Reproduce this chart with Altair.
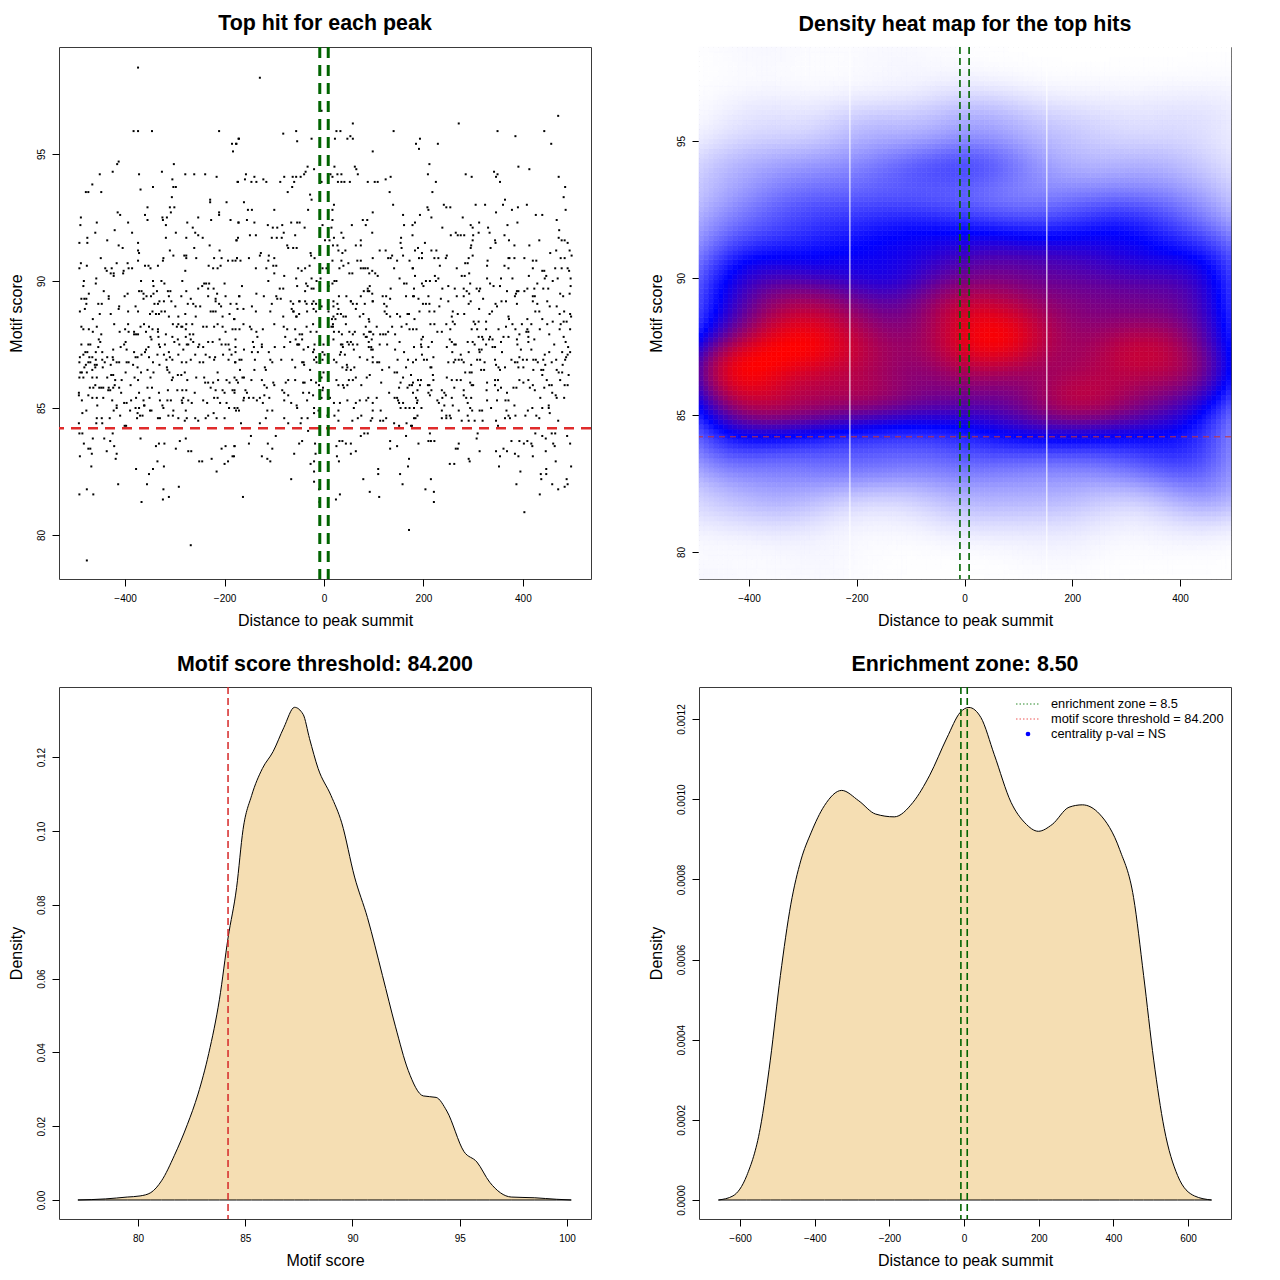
import numpy as np
import pandas as pd
import altair as alt

FONT = "Liberation Sans"

# ---------------- data ----------------
# scatter: (distance to peak summit, motif score), grouped by region of the plot
PTS_A = [(-374,98.4),(-383,95.9),(-374,95.9),(-346,95.9),(-211,95.9),(-185,95.4),(-177,95.4),(-183,95.1),(-172,95.6),(-413,94.7),(-416,94.6),(-451,94.2),(-425,94.3),(-466,93.8),(-479,93.5),(-474,93.5),(-448,93.5),(-372,94.2),(-326,94.3),(-302,94.6),(-279,94.2),(-261,94.2),(-239,94.2),(-216,94.1),(-174,93.9),(-305,94.0),(-369,93.6),(-344,93.7),(-303,93.7),(-298,93.7),(-306,93.3),(-229,93.2),(-229,93.1),(-196,93.1),(-355,92.9),(-310,92.9),(-301,92.9),(-308,92.7),(-415,92.7),(-410,92.6),(-489,92.5),(-360,92.6),(-325,92.5),(-316,92.5),(-355,92.4),(-324,92.4),(-211,92.7),(-211,92.6),(-253,92.5),(-457,92.3),(-394,92.3),(-275,92.3),(-227,92.4),(-188,92.4),(-490,92.2),(-318,92.2),(-264,92.1),(-172,92.3),(-460,91.9),(-421,92.0),(-386,91.9),(-298,91.9),(-259,91.9),(-253,91.8),(-244,91.7),(-476,91.7),(-476,91.5),(-492,91.5),(-436,91.6),(-374,91.5),(-318,91.7),(-277,91.7),(-176,91.6),(-413,91.4),(-405,91.3),(-374,91.2),(-372,91.1),(-310,91.2),(-261,91.3),(-230,91.4),(-210,91.2),(-449,90.9),(-323,90.9),(-324,90.8),(-303,91.0),(-281,91.0),(-277,91.0),(-277,90.9),(-257,90.9),(-374,90.8),(-221,90.9),(-206,90.9),(-193,90.8),(-184,90.8),(-175,90.9),(-489,90.7),(-492,90.5),(-477,90.6),(-440,90.5),(-427,90.5),(-417,90.7),(-395,90.7),(-393,90.5),(-386,90.5),(-360,90.6),(-353,90.6),(-349,90.5),(-334,90.6),(-437,90.4),(-429,90.3),(-423,90.3),(-423,90.2),(-403,90.4),(-404,90.3),(-279,90.4),(-232,90.6),(-223,90.5),(-214,90.5),(-208,90.6),
(-483,90.0),(-484,89.8),(-473,89.5),(-488,89.3),(-482,89.3),(-478,89.3),(-478,89.1),(-481,88.9),(-458,90.1),(-459,89.9),(-443,89.6),(-433,89.4),(-433,89.3),(-454,89.1),(-447,89.1),(-412,89.0),(-413,88.9),(-401,89.4),(-395,89.5),(-379,89.0),(-368,90.0),(-372,89.6),(-367,89.6),(-363,89.5),(-363,89.3),(-357,89.4),(-348,89.4),(-343,89.5),(-344,90.0),(-343,89.8),(-336,89.6),(-331,89.2),(-341,89.1),(-334,89.1),(-327,90.0),(-321,89.9),(-314,89.6),(-309,89.6),(-312,89.4),(-322,89.2),(-307,89.2),(-299,89.0),(-287,89.4),(-285,90.0),(-277,89.6),(-268,89.3),(-274,89.1),(-263,89.1),(-258,89.0),(-249,89.0),(-245,89.8),(-253,89.7),(-241,89.9),(-237,89.9),(-231,89.9),(-233,89.7),(-222,89.7),(-215,89.5),(-218,89.3),(-218,89.2),(-211,89.1),(-207,89.0),(-200,89.9),(-198,89.4),(-188,89.1),(-223,88.8),(-233,89.4),(-176,89.1),(-171,89.4)]

PTS_B = [(-491,88.8),(-451,88.7),(-429,88.7),(-394,88.8),(-374,88.8),(-350,88.7),(-345,88.8),(-338,88.7),(-332,88.7),(-327,88.8),(-320,88.8),(-312,88.6),(-293,88.6),(-279,88.7),(-258,88.6),(-228,88.8),(-218,88.8),(-204,88.6),(-190,88.7),(-181,88.5),(-465,88.5),
(-488,88.2),(-484,88.1),(-473,88.1),(-457,88.2),(-465,88.0),(-448,87.9),(-422,88.3),(-411,88.0),(-400,88.1),(-394,88.3),(-382,87.9),(-378,87.9),(-374,87.9),(-369,88.2),(-362,88.3),(-352,88.2),(-345,88.1),(-334,88.1),(-334,88.0),(-318,87.9),(-304,88.3),(-296,88.2),(-287,88.2),(-285,88.2),(-293,88.3),(-277,88.3),(-278,88.1),(-265,88.3),(-243,88.2),(-236,88.2),(-221,88.2),(-214,88.3),(-204,88.2),(-198,88.0),(-184,88.1),(-178,88.1),(-270,87.9),(-263,87.9),(-278,87.8),(-305,87.8),(-333,87.8),(-349,87.8),(-358,88.0),(-382,88.0),(-393,88.0),
(-453,87.7),(-450,87.6),(-488,87.5),(-474,87.5),(-470,87.5),(-480,87.2),(-476,87.2),(-459,87.2),(-446,87.2),(-454,87.4),(-424,87.3),(-436,87.0),(-425,87.0),(-409,87.4),(-402,87.5),(-399,87.6),(-397,87.3),(-382,87.2),(-379,87.0),(-358,87.3),(-347,87.7),(-332,87.5),(-330,87.4),(-320,87.5),(-312,87.2),(-301,87.6),(-294,87.7),(-291,87.5),(-283,87.3),(-276,87.5),(-273,87.5),(-268,87.7),(-263,87.6),(-251,87.5),(-253,87.4),(-243,87.4),(-233,87.6),(-224,87.6),(-210,87.7),(-206,87.5),(-198,87.5),(-192,87.5),(-190,87.3),(-178,87.4),(-360,87.2),(-353,87.4),
(-491,87.0),(-484,87.1),(-472,87.0),(-466,87.0),(-459,86.9),(-446,86.9),(-492,86.8),(-474,86.8),(-470,86.8),(-479,86.7),(-461,86.7),(-457,86.7),(-441,86.8),(-424,86.9),(-429,86.7),(-417,86.8),(-412,86.8),(-397,86.8),(-393,86.8),(-384,86.7),(-375,87.0),(-367,87.1),(-352,87.0),(-344,86.8),(-335,87.1),(-322,87.1),(-317,86.9),(-310,87.0),(-305,86.9),(-293,87.1),(-286,86.8),(-277,86.8),(-268,86.9),(-259,87.1),(-250,86.8),(-243,86.8),(-238,87.1),(-230,87.0),(-221,86.9),(-219,87.0),(-203,87.1),(-192,86.9),(-186,87.1),(-179,86.8),
(-487,86.4),(-490,86.4),(-482,86.6),(-477,86.4),(-466,86.5),(-460,86.6),(-466,86.2),(-457,86.2),(-492,86.2),(-484,86.2),(-445,86.6),(-428,86.3),(-424,86.3),(-436,86.2),(-420,86.1),(-407,86.1),(-399,86.4),(-381,86.2),(-375,86.6),(-374,86.1),(-368,86.4),(-355,86.5),(-349,86.2),(-343,86.4),(-331,86.7),(-316,86.6),(-315,86.5),(-311,86.4),(-304,86.2),(-306,86.1),(-294,86.3),(-287,86.3),(-280,86.4),(-275,86.1),(-257,86.2),(-241,86.2),(-239,86.0),(-233,86.0),(-223,86.0),(-214,86.4),(-213,86.1),(-196,86.1),(-190,86.0),(-180,86.2),
(-471,85.8),(-464,85.8),(-460,85.9),(-452,85.8),(-448,85.8),(-444,85.8),(-434,85.7),(-430,85.7),(-421,85.9),(-412,85.8),(-408,85.6),(-389,85.9),(-372,85.6),(-355,85.8),(-346,85.8),(-332,85.6),(-314,85.7),(-295,85.7),(-285,85.7),(-277,85.7),(-260,85.6),(-228,85.8),(-218,85.7),(-204,85.7),(-200,85.6),(-184,85.7),(-180,85.6),(-493,85.6),(-493,85.5),(-474,85.5),(-466,85.4),(-457,85.4),(-444,85.4),(-433,85.8),(-424,85.8),
(-487,85.3),(-456,85.1),(-426,85.3),(-417,85.1),(-402,85.2),(-397,85.2),(-388,85.3),(-378,85.4),(-363,85.3),(-361,85.1),(-351,85.4),(-330,85.3),(-325,85.1),(-323,85.0),(-315,85.3),(-308,85.3),(-303,84.9),(-286,85.3),(-283,85.4),(-285,85.2),(-278,84.9),(-273,85.3),(-266,85.2),(-243,85.3),(-235,85.2),(-221,85.4),(-214,85.4),(-209,85.2),(-196,85.2),(-191,85.0),(-180,85.0),(-171,84.9),(-486,84.8),(-478,84.9),(-423,84.9),(-417,85.0),(-390,84.9),(-379,85.0),(-372,85.0),(-362,85.1),(-350,84.9),(-347,84.9),(-375,84.8),(-365,84.7),
(-457,84.6),(-447,84.6),(-431,84.6),(-410,84.7),(-458,84.4),(-446,84.4),(-401,84.3),(-398,84.3),(-376,84.6),(-370,84.7),(-334,84.6),(-330,84.6),(-313,84.7),(-304,84.7),(-293,84.6),(-280,84.5),(-276,84.6),(-259,84.6),(-253,84.5),(-238,84.6),(-233,84.7),(-222,84.8),(-216,84.6),(-200,84.6),(-493,84.4),
(-492,84.0),(-486,84.0),(-465,83.8),(-483,83.6),(-474,83.4),(-470,83.4),(-467,83.2),(-491,83.1),(-442,83.8),(-430,83.7),(-422,83.5),(-417,83.2),(-419,83.0),(-437,83.3),(-425,84.0),(-369,83.8),(-338,83.5),(-332,83.6),(-321,83.6),(-298,83.4),(-290,83.7),(-278,83.8),(-273,83.3),(-267,83.3),(-251,82.9),(-245,82.9),(-226,83.0),(-206,83.4),(-198,83.5),(-180,83.5),(-184,83.1),(-193,82.9),(-200,82.8),(-216,82.5),(-468,82.7),(-378,82.6),(-352,82.4),(-344,82.6),(-335,82.9),(-322,82.7),(-414,82.0),(-356,82.0),(-292,81.9),(-477,81.8),(-492,81.6),(-464,81.6),(-323,81.8),(-312,81.5),(-367,81.3),(-324,81.4),(-268,79.6),(-477,79.0)]

PTS_C = [(-129,98.0),(-5,96.7),(-82,95.8),(-56,95.9),(-25,95.6),(-54,95.5),(-171,95.6),(-176,95.4),(25,95.9),(33,95.9),(22,95.6),(58,96.2),(53,95.7),(58,95.6),(47,95.6),(140,95.9),(98,95.1),(-33,94.5),(-20,94.4),(-37,94.3),(-40,94.2),(21,94.5),(62,94.5),(65,94.4),(68,94.2),(-157,94.2),(-159,94.0),(-140,94.1),(-173,93.9),(-146,93.9),(-136,93.9),(-122,94.0),(-116,93.9),(-88,93.9),(-80,94.1),(-63,94.1),(-56,94.1),(-47,94.1),(-60,93.9),(13,94.2),(17,94.1),(27,94.2),(35,94.2),(28,93.9),(35,93.9),(41,93.9),(52,93.9),(88,93.9),(102,93.9),(108,93.9),(124,94.0),(134,94.1),(-5,93.9),(-73,93.5),(-64,93.7),(-28,93.4),(-25,93.2),(132,93.5),(-161,93.1),(-153,92.8),(-145,92.8),(-100,92.8),(-32,92.8),(17,92.8),(20,93.0),(139,93.0),(98,92.7),(159,92.6),
(-172,92.3),(-155,92.4),(-140,92.3),(-113,92.2),(-103,92.1),(-94,92.1),(-84,92.2),(-66,92.3),(-54,92.3),(-49,92.3),(-39,92.1),(-3,92.2),(17,92.4),(15,92.1),(56,92.2),(78,92.4),(87,92.4),(84,92.2),(97,91.9),(161,92.2),(-173,91.7),(-176,91.6),(-149,91.8),(-137,91.8),(-105,91.7),(-95,91.7),(-85,91.7),(-81,91.9),(-74,91.4),(-72,91.3),(-62,91.3),(-55,91.3),(-58,91.8),(2,91.6),(11,91.6),(20,91.7),(35,91.9),(39,91.7),(74,91.6),(64,91.4),(74,91.4),(155,91.7),(154,91.5),(156,91.3),(-27,91.1),(-26,91.0),(-19,90.9),(18,91.4),(29,91.2),(27,91.4),(43,91.2),(112,91.2),(124,91.2),
(-178,90.8),(-175,90.9),(-168,90.8),(-151,90.9),(-127,91.1),(-129,91.0),(-111,91.0),(-100,90.9),(-112,90.8),(37,91.1),(17,90.8),(35,90.8),(67,90.8),(74,90.8),(98,90.9),(129,90.9),(134,90.9),(137,91.0),(159,91.0),(147,90.8),(-137,90.5),(-116,90.5),(-102,90.6),(-96,90.6),(-100,90.3),(-80,90.2),(-52,90.5),(-45,90.4),(-38,90.5),(-29,90.6),(-3,90.5),(5,90.5),(31,90.5),(39,90.6),(49,90.7),(57,90.3),(51,90.3),(74,90.5),(79,90.5),(83,90.5),(88,90.5),(91,90.3),(97,90.4),(103,90.3),(108,90.2),(141,90.5),(179,90.5),(172,90.8),
(-56,90.1),(-25,90.1),(-7,90.1),(-15,90.0),(21,90.0),(25,90.0),(17,89.9),(9,89.8),(-112,90.0),(-165,89.8),(-54,89.8),(-36,89.9),(-33,89.8),(-25,89.7),(-21,89.7),(-89,89.7),(-82,89.7),(92,89.8),(88,89.7),(91,89.6),(80,89.6),(97,89.5),(118,89.4),(125,89.4),(134,89.7),(152,90.1),(161,89.9),(166,89.9),(179,89.4),(-170,89.4),(-136,89.5),(-121,89.4),(-96,89.4),(-94,89.3),(-87,89.3),(-105,89.1),(-67,89.2),(-50,89.2),(-35,89.1),(-24,89.1),(-16,89.1),(-5,89.0),(19,89.2),(27,89.1),(30,89.4),(45,89.4),(54,89.2),(58,89.1),(74,89.4),(82,89.1),(98,89.2),(121,89.1),(126,89.0),(133,89.3),(165,89.4),
(-174,88.9),(-162,88.9),(-145,89.0),(-65,88.9),(9,88.8),(27,88.7),(64,88.9),(126,88.7),(171,88.7)]

PTS_D = [(-137,88.8),(-108,88.8),(-82,88.6),(-62,88.8),(-55,88.6),(-50,88.7),(-34,88.8),(-16,88.8),(19,88.6),(23,88.5),(34,88.7),(39,88.6),(44,88.6),(72,88.6),(79,88.7),(90,88.5),(122,88.8),(133,88.6),(147,88.7),(153,88.6),(168,88.7),(-180,88.5),
(-162,88.3),(-170,88.1),(-149,88.2),(-146,88.1),(-136,88.0),(-134,87.8),(-123,88.1),(-100,88.3),(-81,88.2),(-74,88.1),(-78,87.8),(-58,88.1),(-49,87.9),(-44,87.9),(-57,87.7),(-35,88.2),(-27,88.0),(-15,88.0),(18,88.3),(15,88.2),(20,88.0),(36,87.9),(51,88.0),(58,87.9),(80,87.9),(86,87.8),(94,88.0),(99,87.9),(113,87.9),(106,88.2),(119,87.9),(129,88.0),(124,87.9),(143,87.9),(137,88.2),(156,88.2),(166,88.3),(172,88.1),
(-178,87.7),(-143,87.6),(-141,87.4),(-125,87.5),(-125,87.4),(-99,87.4),(-80,87.4),(-68,87.6),(-54,87.5),(-50,87.5),(-41,87.3),(-32,87.4),(-20,87.3),(-22,87.2),(-1,87.5),(-3,87.2),(37,87.5),(47,87.6),(50,87.5),(58,87.5),(67,87.5),(32,87.1),(42,87.1),(60,87.3),(90,87.6),(95,87.4),(95,87.3),(98,87.3),(112,87.5),(127,87.5),(143,87.3),(152,87.6),(161,87.2),(-178,87.2),(-161,87.3),(-145,87.2),(-133,87.2),(-111,87.2),
(-170,86.9),(-166,86.9),(-178,86.8),(-139,86.9),(-108,86.9),(-104,86.8),(-119,86.6),(-86,86.9),(-64,86.9),(-44,86.8),(-40,86.7),(-28,86.5),(-20,86.9),(-15,86.8),(-3,86.9),(1,87.1),(20,86.9),(25,86.8),(37,86.6),(47,86.6),(45,86.5),(54,86.5),(61,86.6),(87,86.9),(98,86.8),(107,86.8),(111,86.8),(117,86.5),(131,86.6),(142,86.4),(147,86.4),(148,86.9),(165,86.6),(169,86.9),(-169,86.5),(-140,86.5),(-117,86.5),
(-164,86.2),(-161,86.2),(-176,86.1),(-173,86.0),(-146,86.1),(-125,86.1),(-102,86.0),(-120,85.9),(-115,85.8),(-100,85.9),(-77,86.0),(-72,86.1),(-58,86.1),(-42,86.0),(-39,86.0),(-26,86.1),(-16,86.0),(-1,86.4),(-5,86.2),(-10,85.9),(-2,85.8),(25,86.1),(29,85.9),(38,85.9),(40,85.8),(47,85.9),(50,86.1),(58,86.1),(64,86.2),(75,85.9),(86,86.2),(92,86.3),(115,86.0),(151,85.8),(159,86.2),(154,86.0),(168,85.8),(172,85.9),(179,86.0),
(-180,85.7),(-158,85.7),(-155,85.6),(-161,85.4),(-151,85.4),(-162,85.3),(-174,85.0),(-177,84.9),(-142,85.4),(-135,85.3),(-129,85.4),(-120,85.5),(-110,85.4),(-123,85.2),(-114,84.9),(-104,84.9),(-84,85.7),(-80,85.6),(-72,85.5),(-80,85.3),(-66,85.2),(-55,85.1),(-54,85.0),(-42,85.6),(-34,85.3),(-30,85.6),(-22,85.5),(-20,85.0),(-11,84.9),(-3,85.7),(-5,85.4),(12,85.4),(20,85.2),(32,85.2),(29,84.9),(47,85.3),(64,85.2),(72,85.3),(60,85.0),(85,85.3),(89,85.4),(98,85.2),(106,85.4),(98,84.9),(114,84.9),(131,85.6),(142,85.4),(147,85.4),(149,85.3),(151,85.2),(159,85.2),(154,85.0),(164,85.0),(172,85.0),(181,85.0),
(-167,84.4),(-129,84.4),(-117,84.6),(-80,84.6),(-72,84.4),(-47,84.4),(-45,84.6),(-33,84.6),(-20,84.8),(7,84.7),(21,84.7),(29,84.5),(57,84.5),(68,84.6),(75,84.7),(94,84.5),(97,84.6),(113,84.5),(119,84.5),(125,84.6),(141,84.4),(151,84.3),(166,84.4),
(-32,84.1),(-147,83.9),(-97,83.9),(-151,83.6),(-113,83.6),(-104,83.4),(-180,83.5),(-181,83.1),(-125,83.1),(-114,83.0),(-108,82.9),(-60,83.2),(-44,83.7),(-50,83.6),(-18,83.6),(-20,82.9),(-27,82.8),(-17,83.2),(25,83.5),(31,83.7),(37,83.7),(44,83.6),(54,83.6),(54,83.2),(64,83.3),(26,83.1),(30,82.9),(74,83.9),(81,84.0),(88,84.0),(133,83.7),(147,83.5),(133,83.4),(165,83.9),(171,83.0),(169,82.7),(109,82.6),(109,82.4),(153,82.4),(79,82.2),(-66,82.2),(158,82.0),(92,81.7),(111,81.5),(32,81.6),(24,81.4),(-163,81.5),(171,80.2),(-10,81.8),(-9,81.3),(-20,82.5),(-20,82.1)]

PTS_E = [(471,96.5),(271,96.2),(349,95.9),(443,95.9),(385,95.7),(193,95.6),(185,95.4),(191,95.2),(229,95.4),(457,95.4),(212,94.6),(391,94.5),(413,94.4),(209,94.2),(285,94.2),(297,94.1),(342,94.3),(349,94.2),(346,94.1),(472,94.1),(225,93.9),(354,93.9),(485,93.7),(218,93.5),(482,93.3),(364,93.2),(241,93.0),(246,92.9),(254,92.9),(305,93.0),(324,93.0),(360,93.0),(408,93.0),(390,92.9),(208,92.9),(210,92.8),(378,92.8),(486,92.8),(193,92.6),(346,92.7),(426,92.6),(439,92.6),(216,92.5),(279,92.5),(468,92.4),(183,92.3),(178,92.2),(312,92.3),(295,92.2),(299,92.1),(330,92.1),(369,92.2),(389,92.3),(238,92.1),
(473,92.0),(478,91.6),(484,91.6),(265,91.9),(269,91.8),(275,91.8),(282,91.8),(255,91.8),(311,91.9),(333,91.9),(178,91.8),(300,91.8),(363,91.8),(203,91.5),(299,91.6),(344,91.6),(345,91.5),(372,91.6),(433,91.6),(472,91.7),(296,91.4),(295,91.3),(335,91.3),(383,91.4),(413,91.4),(490,91.5),(183,91.2),(189,91.3),(197,91.1),(216,91.2),(226,91.2),(299,91.0),(455,91.1),(467,91.2),(494,91.2),(498,91.0),
(191,90.9),(197,90.9),(222,90.9),(230,90.9),(245,90.9),(247,91.0),(291,90.9),(371,90.9),(373,90.9),(383,90.9),(403,90.9),(420,90.8),(427,90.8),(476,90.9),(484,90.9),(329,90.8),(284,90.7),(289,90.7),(233,90.6),(178,90.5),(267,90.5),(363,90.6),(371,90.5),(328,90.6),(420,90.5),(439,90.4),(443,90.4),(465,90.5),(478,90.5),(490,90.5),(493,90.4),(183,90.2),(223,90.2),(230,90.1),(277,90.2),(283,90.2),(292,90.3),(328,90.1),(356,90.1),(379,90.1),(412,90.2),(447,90.2),(444,90.1),(470,90.1),(496,90.1),
(197,89.9),(200,89.8),(205,90.0),(213,90.0),(225,90.0),(181,89.7),(238,89.7),(250,89.8),(263,89.7),(281,89.7),(287,89.6),(307,89.7),(314,89.7),(312,89.6),(294,89.9),(334,89.9),(341,89.8),(354,89.8),(368,89.6),(388,89.6),(391,89.6),(403,89.6),(409,89.7),(423,89.7),(429,89.9),(441,89.7),(451,89.7),(460,90.0),(475,89.5),(481,89.4),(494,89.5),(496,89.8),
(181,89.4),(190,89.3),(210,89.4),(235,89.3),(250,89.2),(267,89.4),(281,89.4),(292,89.5),(291,89.1),(295,89.2),(320,89.3),(345,89.1),(357,89.2),(366,89.2),(386,89.5),(384,89.4),(420,89.4),(424,89.4),(420,89.2),(429,89.1),(449,89.2),(199,89.1),(205,89.1),(212,89.1),(232,89.0),(312,88.9),(348,89.0),(388,89.1),(454,89.0),(468,89.0)]

PTS_F = [(192,88.8),(212,88.8),(222,88.8),(259,88.8),(257,88.6),(269,88.7),(282,88.7),(338,88.8),(333,88.7),(371,88.6),(372,88.5),(425,88.8),(433,88.8),(439,88.5),(474,88.7),(483,88.8),(495,88.7),(497,88.6),(182,88.5),(409,88.5),
(214,88.3),(222,88.3),(246,88.3),(259,88.4),(263,88.3),(301,88.4),(304,88.3),(311,88.4),(326,88.4),(366,88.2),(379,88.3),(398,88.3),(409,88.1),(411,88.0),(417,88.3),(449,88.3),(460,88.4),(476,88.3),(482,88.4),(488,88.4),(179,88.1),(186,88.1),(228,88.0),(237,88.0),(254,88.1),(297,88.1),(308,88.1),(326,88.1),(351,88.1),(385,88.1),(393,87.9),(434,88.1),(453,87.9),(474,88.1),(495,88.1),(199,87.8),(196,87.7),(253,87.7),(257,87.6),(311,87.8),(318,87.8),(320,87.7),(334,87.8),(339,87.7),(332,87.7),(361,87.8),(371,87.8),(388,87.7),(411,87.8),(407,88.0),(423,87.7),(482,87.8),
(181,87.4),(195,87.5),(196,87.4),(210,87.4),(217,87.6),(262,87.5),(265,87.5),(289,87.6),(299,87.6),(303,87.5),(312,87.3),(317,87.3),(313,87.2),(326,87.5),(339,87.4),(344,87.4),(358,87.2),(356,87.6),(389,87.5),(396,87.3),(411,87.6),(417,87.3),(444,87.1),(453,87.2),(463,87.5),(486,87.6),(491,87.4),(479,87.2),(495,87.2),(247,87.4),(258,87.2),(275,87.1),(291,87.2),(220,87.0),(197,87.1),
(179,86.8),(185,86.9),(201,86.9),(207,86.9),(216,86.6),(214,86.6),(250,86.8),(261,86.8),(264,86.9),(271,86.9),(277,86.9),(281,86.8),(296,86.7),(308,86.9),(314,86.9),(323,86.8),(344,86.9),(346,86.7),(351,86.6),(354,86.5),(364,86.6),(377,86.9),(384,86.8),(389,86.8),(393,87.0),(400,86.9),(408,86.9),(421,86.9),(426,86.9),(430,86.8),(441,86.9),(445,86.7),(458,86.8),(467,86.9),(480,86.7),(485,86.9),(490,87.1),(487,87.0),(391,86.6),(401,86.6),(297,86.4),(284,86.4),(293,86.4),(322,86.5),(316,86.5),
(175,86.3),(219,86.3),(189,86.1),(195,86.1),(220,86.1),(177,85.9),(193,85.9),(209,85.9),(212,85.9),(216,85.7),(247,86.2),(257,86.1),(267,86.1),(275,86.1),(294,86.0),(297,85.9),(300,85.9),(262,85.8),(281,85.7),(237,85.7),(188,85.7),(328,86.0),(344,86.1),(350,86.1),(344,85.9),(327,85.7),(350,85.7),(356,85.8),(368,85.6),(381,85.8),(387,85.8),(393,86.1),(401,86.0),(411,86.1),(414,85.8),(424,85.7),(420,85.9),(439,86.3),(448,86.1),(453,85.9),(458,85.9),(443,85.8),(459,85.6),(466,85.5),(475,86.1),(472,86.4),(479,86.4),(484,85.9),(490,85.9),(492,86.3),(468,86.5),(437,86.5),(441,86.5),(421,86.5),
(185,85.4),(188,85.3),(187,85.2),(228,85.3),(231,85.2),(238,85.4),(242,85.6),(245,85.5),(257,85.4),(242,85.1),(237,84.9),(259,85.1),(281,85.5),(286,85.4),(296,85.4),(289,85.2),(294,85.0),(298,84.9),(313,84.9),(318,84.9),(336,85.0),(328,85.3),(348,85.3),(365,85.3),(371,85.3),(367,84.9),(383,85.1),(410,84.9),(419,85.0),(435,85.4),(439,85.0),(452,85.1),(452,85.0),(468,85.4),(483,85.4),(196,85.0),(210,85.6),(213,85.5),(179,85.6),
(181,84.6),(184,84.6),(188,84.7),(175,84.3),(237,84.6),(246,84.7),(253,84.7),(255,84.6),(246,84.6),(271,84.9),(277,84.5),(289,84.7),(291,84.5),(303,84.5),(319,84.5),(346,84.5),(364,84.6),(374,84.6),(371,84.7),(385,84.7),(405,84.7),(427,84.7),(433,84.6),(454,84.8),(471,84.5),(350,84.3),(177,84.3),
(213,84.0),(190,83.6),(210,83.7),(215,83.7),(222,83.7),(271,83.6),(265,83.4),(269,83.4),(313,83.3),(309,84.0),(307,83.8),(346,83.3),(354,83.1),(361,83.4),(368,83.3),(377,83.7),(393,83.7),(402,83.6),(409,83.7),(417,83.6),(419,83.5),(384,83.2),(391,83.1),(420,83.1),(425,84.0),(439,83.9),(446,83.8),(461,83.6),(464,83.5),(458,84.0),(465,84.0),(495,83.6),(489,83.9),(446,83.3),(291,83.0),(293,82.9),(253,82.8),(262,82.8),(352,82.7),(466,82.9),(497,82.7),(447,82.6),(436,82.4),(447,82.4),(395,82.5),(437,82.2),(488,82.2),(387,82.0),(459,82.0),(490,82.0),(215,82.2),(471,81.8),(484,81.9),(434,81.6),(204,81.8),(221,81.7),(221,81.3),(403,80.9)]

# densely overplotted core next to the summit (read from a closer look)
PTS_G = [(-38,89.6),(88,89.6),(-62,89.1),(-49,89.2),(-38,89.2),(-21,89.2),(19,89.0),(54,89.2),(98,89.2),(-61,88.8),(-21,88.9),(29,88.9),(66,89.1),
(-56,88.6),(-22,88.3),(16,88.5),(18,88.2),(44,88.3),(91,88.4),(84,88.2),(30,88.0),(62,88.0),(91,88.0),
(-44,87.7),(-52,87.5),(-19,87.5),(19,87.7),(34,87.5),(54,87.6),(84,87.8),(96,87.7),(90,87.4),(38,87.4),
(-41,86.8),(-16,87.0),(34,87.2),(46,86.7),(72,87.0),(98,87.0),(-58,86.6)]

THRESHOLD = 84.2          # motif score threshold
ZONE = 8.5                # enrichment zone half width
TILE_GAPS = [-212.7, 152.8]   # seams of the heat-map image

# density of the motif score (bottom left)
SCORE_X = [77.2, 78.5, 79.5, 80.1, 80.6, 81.1, 81.7, 82.3, 82.8, 83.3, 83.8, 84.2, 84.6, 84.9, 85.3, 85.8, 86.3, 86.8, 87.3, 87.7, 88.0, 88.4, 89.0, 89.5, 90.1, 90.7, 91.4, 92.0, 92.6, 93.3, 93.9, 94.4, 95.2, 95.8, 96.4, 97.4, 98.5, 99.5, 100.2]
SCORE_D = [0.0, 0.0003, 0.0008, 0.0011, 0.002, 0.0052, 0.0121, 0.0204, 0.0287, 0.0397, 0.0544, 0.071, 0.0847, 0.1004, 0.1096, 0.1169, 0.1215, 0.128, 0.1335, 0.1316, 0.125, 0.1169, 0.1096, 0.1022, 0.0875, 0.0765, 0.0608, 0.0471, 0.0351, 0.0282, 0.0278, 0.0241, 0.0131, 0.0103, 0.0048, 0.0008, 0.0006, 0.0002, 0.0]

# density of the distance to the summit (bottom right)
DIST_X = [-658, -619, -582, -546, -519, -492, -464, -437, -410, -374, -328, -282, -237, -187, -137, -92, -46, -10, 13, 45, 81, 126, 163, 199, 236, 281, 317, 363, 417, 454, 481, 508, 536, 572, 617, 663]
DIST_D = [0.0, 0.0000102, 0.000061, 0.000179, 0.000349, 0.00056, 0.000738, 0.000848, 0.000916, 0.000984, 0.001022, 0.000996, 0.000963, 0.000956, 0.000992, 0.00106, 0.001153, 0.001217, 0.001229, 0.001204, 0.001111, 0.000992, 0.000941, 0.00092, 0.000937, 0.00098, 0.000986, 0.000963, 0.000874, 0.000755, 0.00056, 0.000349, 0.000179, 0.000061, 0.0000102, 0.0]

TITLES = ["Top hit for each peak", "Density heat map for the top hits",
          "Motif score threshold: 84.200", "Enrichment zone: 8.50"]
LEGEND_LABELS = ["enrichment zone = 8.5", "motif score threshold = 84.200", "centrality p-val = NS"]

# ---------------- scales ----------------
XA = [-533, 537]; YA = [78.27, 99.21]
XB = [-492.8, 494.6]; YB = [79.01, 98.43]
XC = [76.32, 101.12]; YC = [-0.00515, 0.139]
XD = [-710, 715]; YD = [-0.0000474, 0.00128]

W = H = 532

def sc(dom):
    return alt.Scale(domain=dom, nice=False, zero=False)

def x_axis(title, values, fmt=None):
    kw = dict(title=title, values=values, tickSize=7, labelPadding=7, titlePadding=9,
              grid=False, domain=False, labelFontSize=10, titleFontSize=16,
              labelFlush=False, labelOverlap=False)
    if fmt:
        kw["format"] = fmt
    return alt.Axis(**kw)

def y_axis(title, values, fmt=None):
    kw = dict(title=title, values=values, tickSize=7, labelPadding=8, titlePadding=12,
              grid=False, domain=False, labelFontSize=10, titleFontSize=16,
              labelAngle=270, labelAlign="center", labelBaseline="alphabetic",
              labelFlush=False, labelOverlap=False)
    if fmt:
        kw["format"] = fmt
    return alt.Axis(**kw)

# ---------------- panel A: scatter ----------------
pts = np.array(PTS_A + PTS_B + PTS_C + PTS_D + PTS_E + PTS_F + PTS_G, dtype=float)
sdf = pd.DataFrame({"dist": pts[:, 0], "score": pts[:, 1]})

pa_pts = alt.Chart(sdf).mark_square(size=4, color="black", opacity=1).encode(
    x=alt.X("dist:Q", scale=sc(XA), axis=x_axis("Distance to peak summit", [-400, -200, 0, 200, 400])),
    y=alt.Y("score:Q", scale=sc(YA), axis=y_axis("Motif score", [80, 85, 90, 95])),
)
pa_thr = alt.Chart(pd.DataFrame({"score": [THRESHOLD]})).mark_rule(
    color="#e02b2b", strokeWidth=2.5, strokeDash=[10, 7]).encode(y="score:Q")
pa_zone = alt.Chart(pd.DataFrame({"dist": [-ZONE, ZONE]})).mark_rule(
    color="#006400", strokeWidth=3, strokeDash=[11, 7]).encode(x="dist:Q")
panel_a = alt.layer(pa_pts, pa_thr, pa_zone).properties(width=W, height=H, title=TITLES[0])

# ---------------- panel B: 2D density heat map ----------------
def bw_nrd(v):
    q1, q3 = np.quantile(v, [0.25, 0.75])
    return 4 * 1.06 * min(np.std(v, ddof=1), (q3 - q1) / 1.34) * len(v) ** (-0.2)

NG = 110
ex = np.linspace(XB[0], XB[1], NG + 1)
ey = np.linspace(YB[0], YB[1], NG + 1)
cx = (ex[:-1] + ex[1:]) / 2
cy = (ey[:-1] + ey[1:]) / 2
hx = bw_nrd(pts[:, 0]) / 4
hy = bw_nrd(pts[:, 1]) / 4
ax = np.exp(-0.5 * ((cx[:, None] - pts[None, :, 0]) / hx) ** 2) / hx
ay = np.exp(-0.5 * ((cy[:, None] - pts[None, :, 1]) / hy) ** 2) / hy
z = ax @ ay.T / (len(pts) * 2 * np.pi)
ii, jj = np.meshgrid(np.arange(NG), np.arange(NG), indexing="ij")
hdf = pd.DataFrame({
    "x0": ex[ii.ravel()], "x1": ex[ii.ravel() + 1],
    "y0": ey[jj.ravel()], "y1": ey[jj.ravel() + 1],
    "d": z.ravel(),
})
zmin, zmax = float(z.min()), float(z.max())
heat_scale = alt.Scale(domain=[zmin, (zmin + zmax) / 2, zmax],
                       range=["#ffffff", "#0000ff", "#ff0000"], interpolate="rgb")

pb_heat = alt.Chart(hdf).mark_rect(strokeWidth=0.6).encode(
    x=alt.X("x0:Q", scale=sc(XB), axis=x_axis("Distance to peak summit", [-400, -200, 0, 200, 400])),
    x2="x1:Q",
    y=alt.Y("y0:Q", scale=sc(YB), axis=y_axis("Motif score", [80, 85, 90, 95])),
    y2="y1:Q",
    color=alt.Color("d:Q", scale=heat_scale, legend=None),
    stroke=alt.Stroke("d:Q", scale=heat_scale, legend=None),
)
pb_gap = alt.Chart(pd.DataFrame({"x0": TILE_GAPS})).mark_rule(
    color="white", strokeWidth=1).encode(x="x0:Q")
pb_zone = alt.Chart(pd.DataFrame({"x0": [-ZONE, ZONE]})).mark_rule(
    color="#006400", strokeWidth=1.6, strokeDash=[7, 4]).encode(x="x0:Q")
pb_thr = alt.Chart(pd.DataFrame({"y0": [THRESHOLD]})).mark_rule(
    color="#cc3333", strokeWidth=1, strokeDash=[6, 5]).encode(y="y0:Q")
panel_b = alt.layer(pb_heat, pb_gap, pb_zone, pb_thr).properties(width=W, height=H, title=TITLES[1])

# ---------------- panel C: density of motif score ----------------
cdf = pd.DataFrame({"score": SCORE_X, "dens": SCORE_D})
pc_area = alt.Chart(cdf).mark_area(
    fill="#F5DEB3", stroke="black", strokeWidth=1, interpolate="monotone", opacity=1).encode(
    x=alt.X("score:Q", scale=sc(XC), axis=x_axis("Motif score", [80, 85, 90, 95, 100])),
    y=alt.Y("dens:Q", scale=sc(YC), axis=y_axis("Density", [0, 0.02, 0.04, 0.06, 0.08, 0.10, 0.12], ".2f")),
    y2=alt.datum(0),
)
pc_thr = alt.Chart(pd.DataFrame({"score": [THRESHOLD]})).mark_rule(
    color="#d62828", strokeWidth=1.5, strokeDash=[7, 4]).encode(x="score:Q")
panel_c = alt.layer(pc_area, pc_thr).properties(width=W, height=H, title=TITLES[2])

# ---------------- panel D: density of distance ----------------
ddf = pd.DataFrame({"dist": DIST_X, "dens": DIST_D})
pd_area = alt.Chart(ddf).mark_area(
    fill="#F5DEB3", stroke="black", strokeWidth=1, interpolate="monotone", opacity=1).encode(
    x=alt.X("dist:Q", scale=sc(XD), axis=x_axis("Distance to peak summit", [-600, -400, -200, 0, 200, 400, 600])),
    y=alt.Y("dens:Q", scale=sc(YD), axis=y_axis("Density", [0, 0.0002, 0.0004, 0.0006, 0.0008, 0.0010, 0.0012], ".4f")),
    y2=alt.datum(0),
)
pd_zone = alt.Chart(pd.DataFrame({"dist": [-ZONE, ZONE]})).mark_rule(
    color="#006400", strokeWidth=1.6, strokeDash=[7, 4]).encode(x="dist:Q")

one = pd.DataFrame({"k": [0]})
leg = []
leg.append(alt.Chart(one).mark_rule(color="#2b8a2b", strokeWidth=1, strokeDash=[1.5, 2]).encode(
    x=alt.value(317), x2=alt.value(341), y=alt.value(17)))
leg.append(alt.Chart(one).mark_rule(color="#ee5555", strokeWidth=1, strokeDash=[1.5, 2]).encode(
    x=alt.value(317), x2=alt.value(341), y=alt.value(32)))
leg.append(alt.Chart(one).mark_circle(color="#0000ff", size=22, opacity=1).encode(
    x=alt.value(329), y=alt.value(47)))
for lab, yy in zip(LEGEND_LABELS, [17, 32, 47]):
    leg.append(alt.Chart(one).mark_text(align="left", baseline="middle", fontSize=12.8,
                                         font=FONT, color="black").encode(
        x=alt.value(352), y=alt.value(yy), text=alt.value(lab)))
panel_d = alt.layer(pd_area, pd_zone, *leg).properties(width=W, height=H, title=TITLES[3])

chart = alt.concat(panel_a, panel_b, panel_c, panel_d, columns=2, spacing=108, bounds="flush",
                   padding={"left": -1, "top": 4, "right": 5, "bottom": 5}).configure(
    font=FONT, background="white"
).configure_view(stroke="#3a3a3a", strokeWidth=1).configure_axis(
    labelFont=FONT, titleFont=FONT, labelColor="black", titleColor="black",
    tickColor="black", tickWidth=1, titleFontWeight="normal"
).configure_title(
    font=FONT, fontSize=21.4, fontWeight="bold", color="black", anchor="middle", offset=11
)

chart.save("out.html", embed_options={"renderer": "svg", "actions": False})
